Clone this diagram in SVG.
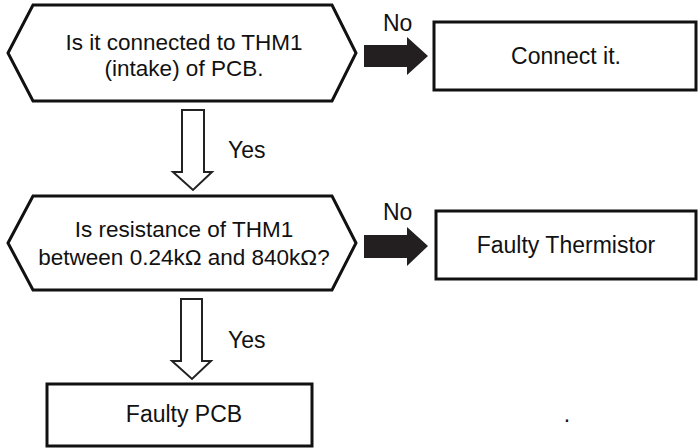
<svg xmlns="http://www.w3.org/2000/svg" width="698" height="448" viewBox="0 0 698 448">
<style>
.t{font-family:"Liberation Sans",Arial,sans-serif;font-size:23px;fill:#111;}
.ht{font-family:"Liberation Sans",Arial,sans-serif;font-size:22.5px;fill:#111;}
.shape{fill:#fff;stroke:#111;stroke-width:3;}
.hollow{fill:#fff;stroke:#222;stroke-width:2;stroke-linejoin:miter;}
.solid{fill:#231f20;stroke:none;}
</style>
<rect width="698" height="448" fill="#fff"/>
<g id="q1">
<polygon class="shape" points="8,53 33,5 332,5 356,53 332,101 33,101"/>
<text class="ht" x="184" y="50" text-anchor="middle">Is it connected to THM1</text>
<text class="ht" x="184" y="76" text-anchor="middle">(intake) of PCB.</text>
</g>
<g id="a1">
<rect class="shape" x="434" y="22" width="262" height="68"/>
<text class="t" x="566" y="64" text-anchor="middle">Connect it.</text>
</g>
<g id="q2">
<polygon class="shape" points="8,243 33,196 332,196 356,243 332,290 33,290"/>
<text class="ht" x="184" y="237" text-anchor="middle">Is resistance of THM1</text>
<text class="ht" x="184" y="265" text-anchor="middle">between 0.24kΩ and 840kΩ?</text>
</g>
<g id="a2">
<rect class="shape" x="436" y="211" width="260" height="68"/>
<text class="t" x="566" y="253" text-anchor="middle">Faulty Thermistor</text>
</g>
<g id="a3">
<rect class="shape" x="47" y="384" width="265" height="62"/>
<text class="t" x="184" y="422" text-anchor="middle">Faulty PCB</text>
</g>
<text class="t" x="567" y="422" text-anchor="middle">.</text>
<g id="connectors">
<polygon class="solid" points="364,45 407,45 407,37 428,56 407,75 407,67 364,67"/>
<text class="t" x="383" y="31">No</text>
<polygon class="solid" points="364,235 407,235 407,227 428,246 407,266 407,258 364,258"/>
<text class="t" x="383" y="220">No</text>
<polygon class="hollow" points="182,110 204,110 204,172 212,172 193,190 173,172 182,172"/>
<text class="t" x="228" y="158">Yes</text>
<polygon class="hollow" points="181,299 202,299 202,361 211,361 192,379 172,361 181,361"/>
<text class="t" x="228" y="348">Yes</text>
</g>
</svg>
